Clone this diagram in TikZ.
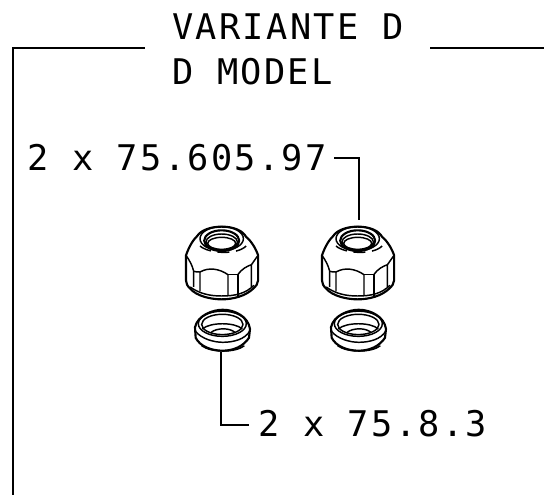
\documentclass[tikz,border=0pt]{standalone}
\usepackage{fontspec}
\newfontfamily\cadfont[LetterSpace=6.5]{DejaVu Sans Mono}
\tikzstyle{label}=[inner sep=0pt, anchor=base west, font=\cadfont\fontsize{26.5}{26.5}\selectfont]
\tikzstyle{part}=[line width=1.1pt, line join=round]
\tikzstyle{thick part}=[line width=1.6pt, line join=round]
\tikzstyle{leader}=[line width=0.9pt]
\tikzset{
  nut/.pic={
    \begin{scope}[x=1.05*0.75pt/3, y=-0.75pt/3]
    \draw[thick part] (20,100) .. controls (30,70) and (42,52) .. (52,42) .. controls (62,25) and (90,14) .. (122,14)
      .. controls (155,14) and (182,25) .. (192,45) .. controls (205,55) and (220,80) .. (226,100) -- (226,175)
      .. controls (225,185) and (220,195) .. (212,200) .. controls (190,222) and (155,232) .. (122,232)
      .. controls (90,232) and (50,222) .. (32,200) .. controls (24,192) and (20,185) .. (20,175) -- cycle;
    \draw[part] (122,50) ellipse [x radius=62, y radius=36];
    \draw[thick part] (122,56) ellipse [x radius=50, y radius=31];
    \draw[part] (122,60) ellipse [x radius=45, y radius=24];
    \draw[part] (122,64) ellipse [x radius=40, y radius=18];
    \draw[part, dash pattern=on 9pt off 5pt] (60,72) .. controls (85,95) and (165,100) .. (192,72);
    \draw[part] (20,100) .. controls (30,115) and (38,130) .. (42,148) -- (42,195);
    \draw[part] (42,148) .. controls (48,150) and (54,150) .. (60,150) -- (60,208);
    \draw[part] (60,150) .. controls (85,135) and (115,140) .. (140,158) -- (140,222);
    \draw[part] (140,158) -- (168,158) -- (168,222);
    \draw[part] (168,158) .. controls (178,142) and (195,132) .. (207,128) -- (207,195);
    \draw[part] (207,128) .. controls (214,118) and (220,108) .. (226,100);
    \draw[part] (32,195) .. controls (60,216) and (90,222) .. (122,222) .. controls (160,222) and (190,215) .. (214,190);
    \end{scope}
  },
  ring/.pic={
    \begin{scope}[x=0.75pt/3, y=-1.05*0.75pt/3]
    \draw[thick part] (30,75) .. controls (38,40) and (85,25) .. (113,25) .. controls (150,25) and (190,45) .. (195,80)
      -- (192,105) .. controls (175,130) and (145,142) .. (113,142) .. controls (80,142) and (45,130) .. (32,105) -- cycle;
    \draw[part] (112,65) ellipse [x radius=72, y radius=36];
    \draw[part] (112,67) ellipse [x radius=62, y radius=29];
    \draw[part] (52,80) .. controls (75,60) and (150,60) .. (172,80);
    \draw[part] (78,90) .. controls (95,76) and (135,76) .. (150,90);
    \draw[part] (30,85) .. controls (50,110) and (90,118) .. (113,118) .. controls (145,118) and (180,110) .. (195,85);
    \draw[part] (50,128) .. controls (80,148) and (150,148) .. (178,128);
    \end{scope}
  }
}

\begin{document}
\begin{tikzpicture}[x=0.75pt, y=-0.75pt]
\useasboundingbox (0,0) rectangle (544,495);
% frame
\coordinate (frame bottom) at (13,495);
\coordinate (frame corner) at (13,48);
\coordinate (frame stop) at (145,48);
\coordinate (frame start) at (430,48);
\coordinate (frame end) at (544,48);
\draw[leader] (frame bottom) -- (frame corner) -- (frame stop);
\draw[leader] (frame start) -- (frame end);
% texts
\node[label] (title) at (172,40) {VARIANTE D};
\node[label] (model) at (172,85) {D MODEL};
\node[label] (upper) at (27,171) {2 x 75.605.97};
\node[label] (lower) at (258,437) {2 x 75.8.3};
% parts
\pic at (179,222) {nut};
\pic at (315,222) {nut};
\pic at (185,301) {ring};
\pic at (321,301) {ring};
% leaders
\coordinate (upper start) at (334,158);
\coordinate (upper bend) at (359,158);
\coordinate (upper tip) at (359,220);
\coordinate (lower start) at (221,352);
\coordinate (lower bend) at (221,425);
\coordinate (lower end) at (249,425);
\draw[leader] (upper start) -- (upper bend) -- (upper tip);
\draw[leader] (lower start) -- (lower bend) -- (lower end);
\end{tikzpicture}
\end{document}
